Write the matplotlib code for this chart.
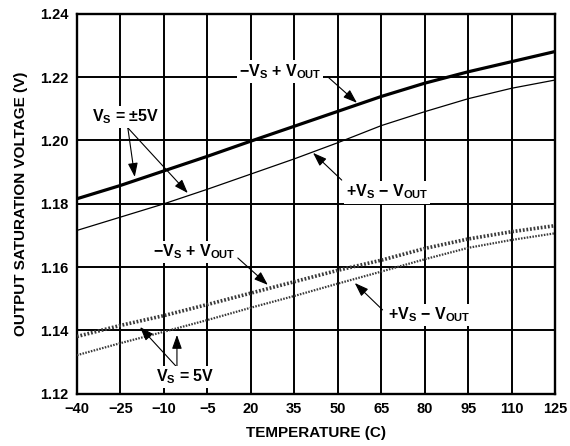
import matplotlib
matplotlib.use("Agg")
import matplotlib.pyplot as plt

plt.rcParams['font.family'] = ['Liberation Sans', 'DejaVu Sans']
plt.rcParams['font.weight'] = 'bold'
plt.rcParams['mathtext.fontset'] = 'custom'
plt.rcParams['mathtext.rm'] = 'Liberation Sans:bold'
plt.rcParams['mathtext.it'] = 'Liberation Sans:bold'
plt.rcParams['mathtext.bf'] = 'Liberation Sans:bold'

# temperature categories (evenly spaced on the chart)
temps = ['\u221240', '\u221225', '\u221210', '\u22125', '20', '35', '50', '65', '80', '95', '110', '125']

# Vs = +/-5V
neg_vs_pm5 = [1.1816, 1.1858, 1.1904, 1.1950, 1.1998, 1.2045, 1.2092, 1.2139, 1.2181, 1.2217, 1.2249, 1.2281]
pos_vs_pm5 = [1.1716, 1.1758, 1.1800, 1.1846, 1.1894, 1.1942, 1.1993, 1.2047, 1.2091, 1.2132, 1.2165, 1.2191]
# Vs = 5V
neg_vs_5 = [1.1381, 1.1416, 1.1447, 1.1482, 1.1518, 1.1554, 1.1590, 1.1622, 1.1659, 1.1689, 1.1712, 1.1731]
pos_vs_5 = [1.1322, 1.1360, 1.1396, 1.1433, 1.1472, 1.1509, 1.1548, 1.1586, 1.1625, 1.1661, 1.1686, 1.1707]

x = list(range(len(temps)))

fig = plt.figure(figsize=(5.70, 4.46), dpi=100)
ax = fig.add_axes([0.135, 0.117, 0.839, 0.852])

ax.plot(x, neg_vs_pm5, color='black', lw=2.3, zorder=3)
ax.plot(x, pos_vs_pm5, color='black', lw=0.9, zorder=3)
ax.plot(x, neg_vs_5, color='#3a3a3a', lw=2.6, ls=(0, (0.5, 0.5)), zorder=3)
ax.plot(x, pos_vs_5, color='#3a3a3a', lw=1.6, ls=(0, (0.7, 0.6)), zorder=3)

ax.set_xlim(0, len(temps) - 1)
ax.set_ylim(1.12, 1.24)
ax.set_xticks(x)
ax.set_xticklabels(temps)
ax.set_yticks([1.12, 1.14, 1.16, 1.18, 1.20, 1.22, 1.24])
ax.set_yticklabels(['1.12', '1.14', '1.16', '1.18', '1.20', '1.22', '1.24'])
ax.tick_params(length=0, labelsize=10.5, pad=6)
for lab in ax.get_xticklabels() + ax.get_yticklabels():
    lab.set_fontweight('bold')
ax.grid(True, color='black', lw=1.4, zorder=1)
for s in ax.spines.values():
    s.set_linewidth(1.7)

ax.set_xlabel('TEMPERATURE (C)', fontsize=11, fontweight='bold', labelpad=7)
ax.set_ylabel('OUTPUT SATURATION VOLTAGE (V)', fontsize=11, fontweight='bold', labelpad=9)

box = dict(facecolor='white', edgecolor='none', pad=1.5)
arrow = dict(arrowstyle='-|>,head_length=0.7,head_width=0.25', color='black', lw=0.8,
             mutation_scale=12, shrinkA=0, shrinkB=0)

def label(text, pos):
    ax.text(pos[0], pos[1], text, fontsize=11.5, fontweight='bold', ha='center', va='center',
            bbox=box, zorder=5)

def arr(tail, head):
    ax.annotate('', xy=head, xytext=tail, arrowprops=arrow, zorder=4)

label('\u2212V$_S$ + V$_{OUT}$', (4.67, 1.2217))
arr((5.77, 1.2201), (6.44, 1.2119))

label('V$_S$ = \u00b15V', (1.13, 1.2074))
arr((1.17, 1.2040), (1.33, 1.1885))
arr((1.17, 1.2040), (2.55, 1.1834))

label('+V$_S$ \u2212 V$_{OUT}$', (7.13, 1.1837))
arr((6.09, 1.1875), (5.43, 1.1961))

label('\u2212V$_S$ + V$_{OUT}$', (2.69, 1.1648))
arr((3.70, 1.1629), (4.39, 1.1544))

label('V$_S$ = 5V', (2.5, 1.1253))
arr((2.3, 1.1284), (1.45, 1.1411))
arr((2.3, 1.1284), (2.3, 1.1386))

label('+V$_S$ \u2212 V$_{OUT}$', (8.11, 1.1449))
arr((7.03, 1.1465), (6.39, 1.1550))

fig.savefig('out.png', dpi=100)
